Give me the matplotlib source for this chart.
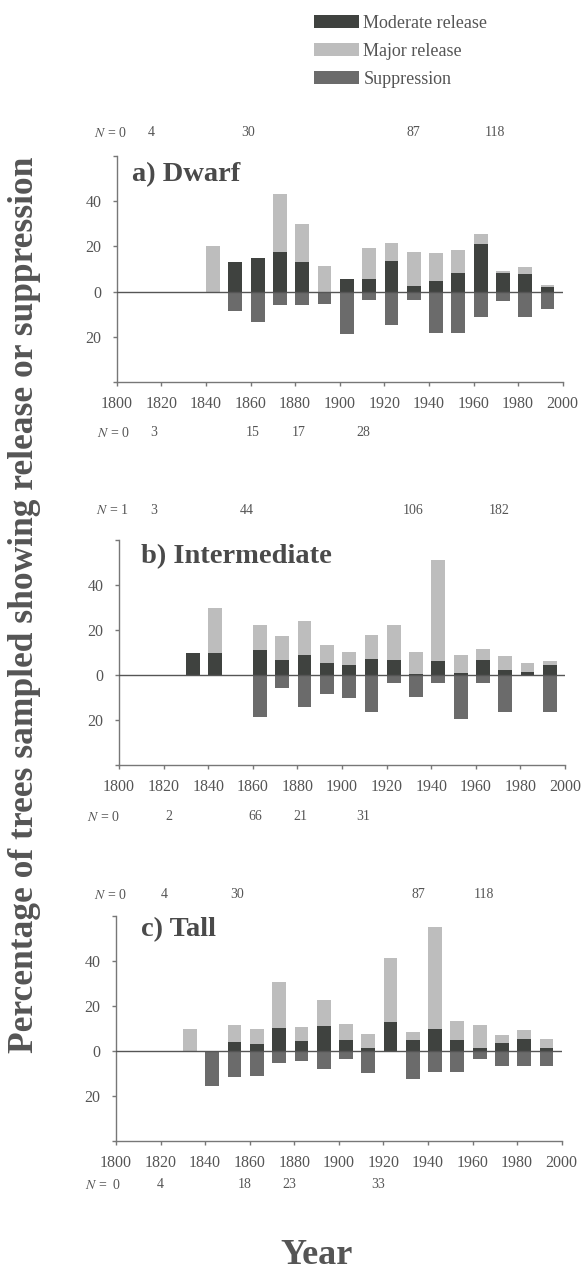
import numpy as np
import matplotlib
matplotlib.use("Agg")
import matplotlib.pyplot as plt
from matplotlib.transforms import blended_transform_factory

plt.rcParams['font.family'] = ['Liberation Serif', 'DejaVu Serif']
plt.rcParams['mathtext.fontset'] = 'stix'

# ---------------- data ----------------
decades = [1830, 1840, 1850, 1860, 1870, 1880, 1890, 1900, 1910, 1920,
           1930, 1940, 1950, 1960, 1970, 1980, 1990]

# Dwarf: moderate release, total release (moderate+major), suppression
dwarf_moderate = [0, 0, 13.2, 15.0, 17.4, 12.9, 0, 5.6, 5.6, 13.4, 2.5, 4.7, 8.4, 20.9, 8.2, 7.8, 1.9]
dwarf_total = [0, 20.1, 13.2, 15.0, 43.4, 30.1, 11.5, 5.6, 19.4, 21.3, 17.6, 16.9, 18.2, 25.7, 9.1, 11.0, 3.1]
dwarf_supp = [0, 0, 8.5, 13.4, 6.0, 6.0, 5.4, 18.8, 3.7, 14.7, 3.8, 18.4, 18.4, 11.3, 4.0, 11.3, 7.8]

# Intermediate
inter_moderate = [9.8, 9.8, 0, 11.1, 6.8, 8.9, 5.2, 4.4, 7.0, 6.8, 0.6, 6.1, 0.9, 6.8, 2.4, 1.5, 4.3]
inter_total = [9.8, 29.8, 0, 22.4, 17.5, 23.9, 13.3, 10.1, 17.9, 22.2, 10.1, 51.3, 9.0, 11.7, 8.6, 5.3, 6.4]
inter_supp = [0, 0, 0, 18.8, 5.8, 14.4, 8.4, 10.2, 16.3, 3.4, 9.9, 3.6, 19.7, 3.7, 16.4, 0, 16.4]

# Tall
tall_moderate = [0, 0, 3.9, 3.3, 10.1, 4.3, 11.1, 4.9, 1.2, 12.9, 4.8, 10.0, 4.8, 1.3, 3.7, 5.2, 1.2]
tall_total = [10.0, 0, 11.6, 9.8, 30.8, 10.8, 22.6, 11.9, 7.4, 41.2, 8.5, 55.3, 13.4, 11.6, 7.1, 9.5, 5.2]
tall_supp = [0, 15.5, 11.7, 11.0, 5.2, 4.5, 7.9, 3.6, 9.7, 0, 12.5, 9.4, 9.4, 3.6, 6.5, 6.5, 6.7]

panel_titles = ['a) Dwarf', 'b) Intermediate', 'c) Tall']
series = [(dwarf_moderate, dwarf_total, dwarf_supp),
          (inter_moderate, inter_total, inter_supp),
          (tall_moderate, tall_total, tall_supp)]

# sample-size annotations (year anchor, label)
n_top = [
    ([1804.6, 1815.4, 1859.0, 1933.0, 1969.6], ['N = 0', '4', '30', '87', '118']),
    ([1804.2, 1815.7, 1857.5, 1932.0, 1970.5], ['N = 1', '3', '44', '106', '182']),
    ([1804.8, 1821.5, 1854.2, 1935.7, 1965.3], ['N = 0', '4', '30', '87', '118']),
]
n_bottom = [
    ([1806.0, 1816.4, 1861.0, 1881.4, 1910.6], ['N = 0', '3', '15', '17', '28']),
    ([1800.4, 1822.3, 1861.0, 1881.2, 1909.4], ['N = 0', '2', '66', '21', '31']),
    ([1802.5, 1819.7, 1857.9, 1877.8, 1917.7], ['N =  0', '4', '18', '23', '33']),
]

xticks = list(range(1800, 2001, 20))
ytick_vals = [-40, -20, 0, 20, 40, 60]
ytick_labels = ['', '20', '0', '20', '40', '']

legend_labels = ['Moderate release', 'Major release', 'Suppression']

# ---------------- style ----------------
C_MOD = '#3f423f'
C_MAJ = '#bdbdbd'
C_SUP = '#6b6b6b'
C_TXT = '#555555'
C_AX = '#777777'

W, H = 582, 1271
fig = plt.figure(figsize=(W / 100, H / 100), dpi=100)

# axes boxes in pixels: left, right, top, bottom
boxes = [(116.7, 562.7, 156, 382), (119, 565, 540, 765), (116, 561.7, 916, 1141)]
top_rows = [133, 510, 895]
bot_rows = [433, 817, 1185]
title_pos = [(131.7, 175), (140.7, 557), (140.7, 930)]

offset = 3.2
width = 6.2

handles = None
for i, (l, r, t, b) in enumerate(boxes):
    ax = fig.add_axes([l / W, 1 - b / H, (r - l) / W, (b - t) / H])
    mod, tot, sup = [np.array(s, dtype=float) for s in series[i]]
    x = np.array(decades, dtype=float) + offset
    maj = tot - mod
    h1 = ax.bar(x, mod, width=width, color=C_MOD, linewidth=0)
    h2 = ax.bar(x, maj, bottom=mod, width=width, color=C_MAJ, linewidth=0)
    h3 = ax.bar(x, -sup, width=width, color=C_SUP, linewidth=0)
    if handles is None:
        handles = [h1, h2, h3]
    ax.plot([1800, 2000], [0, 0], color='#555555', lw=1.0, zorder=3)
    ax.set_xlim(1800, 2000)
    ax.set_ylim(-40, 60)
    ax.set_xticks(xticks)
    ax.set_xticklabels([str(v) for v in xticks])
    ax.set_yticks(ytick_vals)
    ax.set_yticklabels(ytick_labels)
    for s in ['top', 'right']:
        ax.spines[s].set_visible(False)
    for s in ['left', 'bottom']:
        ax.spines[s].set_color(C_AX)
        ax.spines[s].set_linewidth(1.0)
    ax.tick_params(axis='x', length=3, width=1, color=C_AX, pad=7,
                   labelsize=11.5, labelcolor=C_TXT)
    ax.tick_params(axis='y', length=3, width=1, color=C_AX, pad=8,
                   labelsize=11.5, labelcolor=C_TXT)
    tx, ty = title_pos[i]
    fig.text(tx / W, 1 - ty / H, panel_titles[i], fontsize=20.5, fontweight='bold',
             color='#4a4a4a', ha='left', va='center')
    tr = blended_transform_factory(ax.transData, fig.transFigure)
    for rows, ypx in ((n_top[i], top_rows[i]), (n_bottom[i], bot_rows[i])):
        xs, labs = rows
        for j, (xv, lab) in enumerate(zip(xs, labs)):
            if lab.startswith('N'):
                txt = r'$N$' + lab[1:]
                ax.text(xv, 1 - ypx / H, txt, transform=tr, ha='right', va='center',
                        fontsize=10, color=C_TXT)
            else:
                ax.text(xv, 1 - ypx / H, lab, transform=tr, ha='center', va='center',
                        fontsize=10, color=C_TXT)

fig.legend(handles, legend_labels, loc='upper left',
           bbox_to_anchor=(310 / W, 1 - 11 / H), frameon=False,
           fontsize=13, handlelength=2.5, handleheight=0.75, handletextpad=0.25,
           labelspacing=0.62, labelcolor=C_TXT, borderaxespad=0, borderpad=0.2)

fig.text(25 / W, 1 - 605 / H, 'Percentage of trees sampled showing release or suppression',
         rotation=90, fontsize=25.5, fontweight='bold', color='#555555',
         ha='center', va='center')
fig.text(317 / W, 1 - 1256 / H, 'Year', fontsize=26, fontweight='bold',
         color='#555555', ha='center', va='center')

fig.savefig('out.png', dpi=100)
